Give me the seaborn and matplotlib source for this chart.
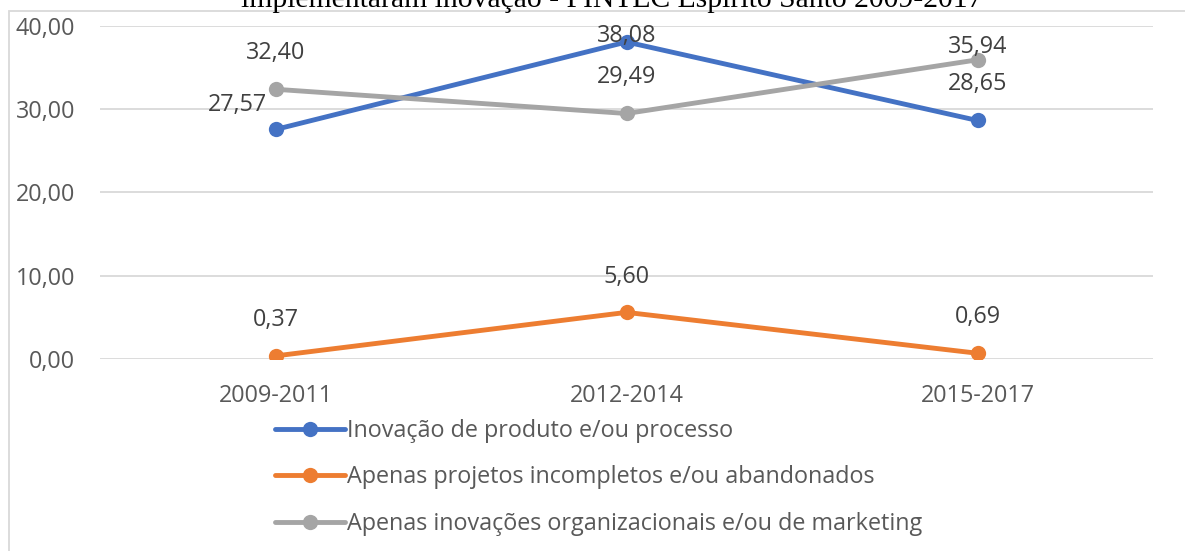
import matplotlib
matplotlib.use("Agg")
import matplotlib.pyplot as plt
from matplotlib.patches import Rectangle
import pandas as pd
import seaborn as sns

periods = ['2009-2011', '2012-2014', '2015-2017']
series_names = [
    'Inovação de produto e/ou processo',
    'Apenas projetos incompletos e/ou abandonados',
    'Apenas inovações organizacionais e/ou de marketing',
]
produto_processo = [27.57, 38.08, 28.65]
projetos_incompletos = [0.37, 5.60, 0.69]
organizacionais_marketing = [32.40, 29.49, 35.94]
y_ticks = [0, 10, 20, 30, 40]
title = 'implementaram inovação - PINTEC Espírito Santo 2009-2017'

colors = ['#4472C4', '#ED7D31', '#A5A5A5']

rows = []
for name, vals in zip(series_names, [produto_processo, projetos_incompletos, organizacionais_marketing]):
    for p, v in zip(periods, vals):
        rows.append({'Periodo': p, 'Valor': v, 'Serie': name})
df = pd.DataFrame(rows)

sns.set_style("white")
plt.rcParams['font.family'] = ['Open Sans', 'DejaVu Sans']

fs = 16.8
fig = plt.figure(figsize=(11.85, 5.51), dpi=100)
ax = fig.add_axes([100 / 1185, 1 - 359 / 551, 1053 / 1185, 333 / 551])

sns.lineplot(data=df, x='Periodo', y='Valor', hue='Serie', hue_order=series_names,
             palette=colors, marker='o', markersize=11, markeredgewidth=0,
             linewidth=3.5, ax=ax, sort=False)

ax.set_xlim(-0.5, 2.5)
ax.set_ylim(0, 40)
ax.set_yticks(y_ticks)
ax.set_yticklabels([f"{t:.2f}".replace('.', ',') for t in y_ticks])
ax.set_xlabel('')
ax.set_ylabel('')
ax.grid(axis='y', color='#D9D9D9', linewidth=1.3)
ax.set_axisbelow(True)
for s in ax.spines.values():
    s.set_visible(False)
ax.tick_params(axis='y', length=0, pad=18, labelsize=fs, labelcolor='#595959')
ax.tick_params(axis='x', length=0, pad=18, labelsize=fs, labelcolor='#595959')

# data labels: offset in pixels (dx, dy) per series/point
offsets = [
    [(-38, 24), (0, 6), (0, 36)],
    [(0, 36), (0, 35), (0, 36)],
    [(0, 36), (0, 36), (0, 13)],
]
for vals, offs in zip([produto_processo, projetos_incompletos, organizacionais_marketing], offsets):
    for i, (v, o) in enumerate(zip(vals, offs)):
        ax.annotate(f"{v:.2f}".replace('.', ','), xy=(i, v), xytext=o,
                    textcoords='offset pixels', ha='center', va='center',
                    fontsize=fs, color='#404040')

handles, labels = ax.get_legend_handles_labels()
ax.get_legend().remove()
fig.legend(handles, labels, loc='upper left', bbox_to_anchor=(275 / 1185, 1 - 419 / 551),
           frameon=False, fontsize=fs, handlelength=3.0, handletextpad=0.1,
           labelspacing=0.96, borderpad=0, borderaxespad=0, labelcolor='#595959')

fig.patches.append(Rectangle((8.5 / 1185, -0.1), 1.2, 1.1 - 11 / 551, transform=fig.transFigure,
                             fill=False, edgecolor='#D9D9D9', linewidth=1.3))

fig.text(612 / 1185, 1 - 7 / 551, title, ha='center', va='baseline',
         fontsize=21.3, family=['Liberation Serif', 'DejaVu Serif'], color='black')

fig.savefig('out.png', dpi=100)
